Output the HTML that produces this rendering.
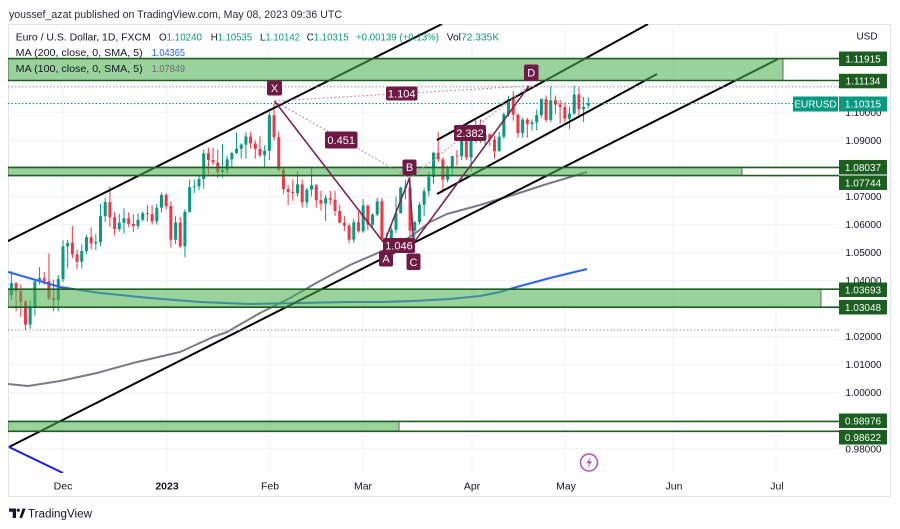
<!DOCTYPE html>
<html><head><meta charset="utf-8"><style>
html,body{margin:0;padding:0;background:#fff;}
svg{display:block;font-family:"Liberation Sans",sans-serif;}
</style></head><body>
<svg width="900" height="529" viewBox="0 0 900 529" xmlns="http://www.w3.org/2000/svg">
<defs><clipPath id="pc"><rect x="8" y="24" width="831" height="449"/></clipPath></defs>
<rect x="0" y="0" width="900" height="529" fill="#fff"/>
<text x="9" y="18" font-size="11" fill="#2a2e39" textLength="333" lengthAdjust="spacingAndGlyphs">youssef_azat published on TradingView.com, May 08, 2023 09:36 UTC</text>
<rect x="8.5" y="24.5" width="882" height="472" fill="none" stroke="#e0e3eb"/>
<g stroke="#f0f3fa" stroke-width="1">
<path d="M8 56.3H839M8 84.3H839M8 112.3H839M8 140.4H839M8 168.4H839M8 196.4H839M8 224.5H839M8 252.5H839M8 280.6H839M8 308.6H839M8 336.6H839M8 364.7H839M8 392.7H839M8 420.7H839M8 448.8H839"/>
<path d="M63 24V473M167 24V473M270 24V473M363 24V473M472 24V473M565 24V473M673 24V473M776 24V473"/>
</g>
<g clip-path="url(#pc)">
<g transform="translate(63,3196.4) scale(4.69,-2803.7)">
<path fill="none" stroke="#089981" stroke-width="1" vector-effect="non-scaling-stroke" d="M-11 1.0330V1.0434M-7 1.0228V1.0329M-6 1.0275V1.0406M-5 1.0385V1.0448M-1 1.0290V1.0420M0 1.0395V1.0544M1 1.0443V1.0545M4 1.0443V1.0529M5 1.0493V1.0563M7 1.0509V1.0566M8 1.0523V1.0673M9 1.0608V1.0695M12 1.0575V1.0638M13 1.0568V1.0657M16 1.0584V1.0640M17 1.0610V1.0647M20 1.0600V1.0673M21 1.0643V1.0714M24 1.0530V1.0631M26 1.0483V1.0654M27 1.0643V1.0760M28 1.0712V1.0760M29 1.0722V1.0778M30 1.0728V1.0867M34 1.0766V1.0887M35 1.0780V1.0845M36 1.0800V1.0860M37 1.0850V1.0927M38 1.0835V1.0890M39 1.0835V1.0929M43 1.0800V1.0882M44 1.0830V1.1000M50 1.0700V1.0790M52 1.0660V1.0730M53 1.0700V1.0804M56 1.0613V1.0705M62 1.0535V1.0620M64 1.0570V1.0691M66 1.0590V1.0640M67 1.0630V1.0695M70 1.0530V1.0590M71 1.0570V1.0700M72 1.0640V1.0735M73 1.0690V1.0760M75 1.0550V1.0613M76 1.0600V1.0680M77 1.0630V1.0730M78 1.0700V1.0787M79 1.0745V1.0860M82 1.0750V1.0810M83 1.0775V1.0845M85 1.0830V1.0925M87 1.0790V1.0920M88 1.0890V1.0972M90 1.0880V1.0940M93 1.0860V1.0930M94 1.0905V1.1000M95 1.0985V1.1060M98 1.0910V1.0980M100 1.0935V1.0975M101 1.0935V1.1010M102 1.0980V1.1050M104 1.0965V1.1095M108 1.0940V1.1020M109 1.0990V1.1095M111 1.0965V1.1055M112 1.1014V1.1054"/>
<path fill="none" stroke="#f23645" stroke-width="1" vector-effect="non-scaling-stroke" d="M-10 1.0290V1.0395M-9 1.0270V1.0385M-8 1.0223V1.0331M-4 1.0385V1.0431M-3 1.0330V1.0497M-2 1.0290V1.0404M2 1.0480V1.0594M3 1.0441V1.0510M6 1.0512V1.0589M10 1.0591V1.0736M11 1.0561V1.0645M14 1.0590V1.0643M15 1.0573V1.0637M18 1.0610V1.0670M19 1.0600V1.0668M22 1.0654V1.0712M23 1.0519V1.0683M25 1.0517V1.0627M31 1.0780V1.0873M32 1.0812V1.0874M33 1.0766V1.0867M40 1.0870V1.0930M41 1.0835V1.0900M42 1.0840V1.0915M45 1.0900V1.1033M46 1.0790V1.0932M47 1.0710V1.0805M48 1.0669V1.0740M49 1.0684V1.0760M51 1.0660V1.0760M54 1.0660V1.0745M55 1.0650V1.0720M57 1.0670V1.0720M58 1.0630V1.0720M59 1.0605V1.0670M60 1.0577V1.0630M61 1.0533V1.0604M63 1.0570V1.0645M65 1.0580V1.0670M68 1.0540V1.0695M69 1.0524V1.0570M74 1.0516V1.0760M80 1.0820V1.0930M81 1.0713V1.0840M84 1.0810V1.0865M86 1.0830V1.0925M89 1.0890V1.0975M91 1.0880V1.0925M92 1.0835V1.0915M96 1.0970V1.1076M97 1.0910V1.0995M99 1.0910V1.0980M103 1.0965V1.1060M105 1.0995V1.1060M106 1.0960V1.1045M107 1.0965V1.1035M110 1.0990V1.1090"/>
<path fill="#089981" d="M-11.32 1.0348h.64v.0043h-.64zM-7.32 1.0243h.64v.0061h-.64zM-6.32 1.0304h.64v.0093h-.64zM-5.32 1.0397h.64v.0011h-.64zM-1.32 1.0330h.64v.0075h-.64zM-.32 1.0405h.64v.0117h-.64zM.68 1.0522h.64v.0013h-.64zM3.68 1.0467h.64v.0039h-.64zM4.68 1.0506h.64v.0049h-.64zM6.68 1.0532h.64v.0005h-.64zM7.68 1.0537h.64v.0093h-.64zM8.68 1.0630h.64v.0050h-.64zM11.68 1.0584h.64v.0022h-.64zM12.68 1.0606h.64v.0016h-.64zM15.68 1.0594h.64v.0023h-.64zM16.68 1.0617h.64v.0023h-.64zM19.68 1.0611h.64v.0049h-.64zM20.68 1.0660h.64v.0045h-.64zM23.68 1.0546h.64v.0061h-.64zM25.68 1.0522h.64v.0123h-.64zM26.68 1.0645h.64v.0088h-.64zM27.68 1.0733h.64v.0003h-.64zM28.68 1.0736h.64v.0026h-.64zM29.68 1.0762h.64v.0092h-.64zM33.68 1.0787h.64v.0007h-.64zM34.68 1.0794h.64v.0038h-.64zM35.68 1.0832h.64v.0023h-.64zM36.68 1.0855h.64v.0015h-.64zM37.68 1.0870h.64v.0015h-.64zM38.68 1.0885h.64v.0029h-.64zM42.68 1.0847h.64v.0016h-.64zM43.68 1.0863h.64v.0127h-.64zM49.68 1.0712h.64v.0031h-.64zM51.68 1.0679h.64v.0045h-.64zM52.68 1.0724h.64v.0016h-.64zM55.68 1.0675h.64v.0019h-.64zM61.68 1.0546h.64v.0062h-.64zM63.68 1.0576h.64v.0092h-.64zM65.68 1.0599h.64v.0036h-.64zM66.68 1.0635h.64v.0048h-.64zM69.68 1.0546h.64v.0035h-.64zM70.68 1.0581h.64v.0059h-.64zM71.68 1.0640h.64v.0091h-.64zM72.68 1.0731h.64v.0003h-.64zM74.68 1.0578h.64v.0031h-.64zM75.68 1.0609h.64v.0061h-.64zM76.68 1.0670h.64v.0049h-.64zM77.68 1.0719h.64v.0051h-.64zM78.68 1.0770h.64v.0086h-.64zM81.68 1.0760h.64v.0040h-.64zM82.68 1.0800h.64v.0044h-.64zM84.68 1.0843h.64v.0062h-.64zM86.68 1.0839h.64v.0063h-.64zM87.68 1.0902h.64v.0053h-.64zM89.68 1.0903h.64v.0019h-.64zM92.68 1.0861h.64v.0052h-.64zM93.68 1.0913h.64v.0080h-.64zM94.68 1.0993h.64v.0054h-.64zM97.68 1.0926h.64v.0048h-.64zM99.68 1.0958h.64v.0006h-.64zM100.68 1.0964h.64v.0026h-.64zM101.68 1.0990h.64v.0057h-.64zM103.68 1.0973h.64v.0070h-.64zM107.68 1.0977h.64v.0019h-.64zM108.68 1.0996h.64v.0067h-.64zM110.68 1.1011h.64v.0008h-.64zM111.68 1.1024h.64v.0008h-.64z"/>
<path fill="#f23645" d="M-10.32 1.0363h.64v.0028h-.64zM-9.32 1.0325h.64v.0038h-.64zM-8.32 1.0243h.64v.0082h-.64zM-4.32 1.0398h.64v.0010h-.64zM-3.32 1.0337h.64v.0061h-.64zM-2.32 1.0330h.64v.0007h-.64zM1.68 1.0494h.64v.0041h-.64zM2.68 1.0467h.64v.0027h-.64zM5.68 1.0532h.64v.0023h-.64zM9.68 1.0626h.64v.0054h-.64zM10.68 1.0584h.64v.0042h-.64zM13.68 1.0602h.64v.0020h-.64zM14.68 1.0594h.64v.0008h-.64zM17.68 1.0637h.64v.0003h-.64zM18.68 1.0611h.64v.0026h-.64zM21.68 1.0666h.64v.0039h-.64zM22.68 1.0546h.64v.0120h-.64zM24.68 1.0522h.64v.0085h-.64zM30.68 1.0830h.64v.0024h-.64zM31.68 1.0821h.64v.0009h-.64zM32.68 1.0787h.64v.0034h-.64zM39.68 1.0889h.64v.0025h-.64zM40.68 1.0869h.64v.0020h-.64zM41.68 1.0847h.64v.0022h-.64zM44.68 1.0911h.64v.0079h-.64zM45.68 1.0795h.64v.0116h-.64zM46.68 1.0726h.64v.0069h-.64zM47.68 1.0716h.64v.0010h-.64zM48.68 1.0712h.64v.0004h-.64zM50.68 1.0679h.64v.0064h-.64zM53.68 1.0687h.64v.0053h-.64zM54.68 1.0675h.64v.0012h-.64zM56.68 1.0688h.64v.0006h-.64zM57.68 1.0648h.64v.0040h-.64zM58.68 1.0606h.64v.0042h-.64zM59.68 1.0596h.64v.0010h-.64zM60.68 1.0546h.64v.0050h-.64zM62.68 1.0576h.64v.0032h-.64zM64.68 1.0599h.64v.0069h-.64zM67.68 1.0549h.64v.0134h-.64zM68.68 1.0546h.64v.0003h-.64zM73.68 1.0578h.64v.0154h-.64zM79.68 1.0832h.64v.0024h-.64zM80.68 1.0760h.64v.0072h-.64zM83.68 1.0843h.64v.0003h-.64zM85.68 1.0839h.64v.0066h-.64zM88.68 1.0903h.64v.0052h-.64zM90.68 1.0903h.64v.0019h-.64zM91.68 1.0861h.64v.0042h-.64zM95.68 1.0992h.64v.0055h-.64zM96.68 1.0926h.64v.0066h-.64zM98.68 1.0958h.64v.0016h-.64zM102.68 1.0973h.64v.0074h-.64zM104.68 1.1028h.64v.0015h-.64zM105.68 1.1019h.64v.0009h-.64zM106.68 1.0977h.64v.0042h-.64zM109.68 1.1011h.64v.0052h-.64z"/>
</g>
<polyline fill="none" stroke="#787b86" stroke-width="2" stroke-linejoin="round" points="8,384 28,386 60,381 97,373 133,363 180,352 213,337 227,332 260,313 290,298 318,282 350,265 380,252 400,243 413,235 430,222 447,214 480,205 513,195 547,184 587,172"/>
<polyline fill="none" stroke="#2962ff" stroke-width="2" stroke-linejoin="round" points="8,272 60,287 100,293 150,298 200,302 250,304 300,303 350,302 380,302 413,301 450,299 480,296 500,292 513,288 550,278 587,269"/>
<g stroke="#000" stroke-width="2" fill="none">
<line x1="6" y1="242" x2="442" y2="24"/>
<line x1="9" y1="447" x2="778" y2="59"/>
<line x1="437" y1="194" x2="657" y2="74"/>
<line x1="437" y1="140" x2="648" y2="24"/>
</g>
<line x1="9" y1="447" x2="63" y2="473" stroke="#1a1aff" stroke-width="2"/>
<g fill="rgba(76,175,80,0.57)" stroke="#5f6b60" stroke-width="1">
<rect x="8" y="58.6" width="775" height="21.9"/>
<rect x="8" y="167.4" width="734" height="8.2"/>
<rect x="8" y="289.2" width="813" height="18"/>
<rect x="8" y="421.4" width="391" height="9.9"/>
</g>
<g stroke="#1e5e22" stroke-width="1.6">
<path d="M8 58.6H839M8 80.5H839M8 167.4H839M8 175.6H839M8 289.2H839M8 307.2H839M8 421.4H839M8 431.3H839"/>
</g>
<g stroke-dasharray="1.5 2" stroke-width="1">
<line x1="8" y1="86.7" x2="839" y2="86.7" stroke="#9598a1"/>
<line x1="8" y1="330" x2="839" y2="330" stroke="#9598a1"/>
<line x1="8" y1="103.5" x2="793" y2="103.5" stroke="#089981"/>
</g>
<g stroke="#b98aa3" stroke-width="1" stroke-dasharray="2 2" fill="none">
<line x1="274.5" y1="101" x2="409.5" y2="178"/>
<line x1="274.5" y1="101" x2="529" y2="86"/>
<line x1="409.5" y1="178" x2="529" y2="86"/>
<line x1="384" y1="243" x2="413.5" y2="243"/>
</g>
<polyline fill="none" stroke="#7b2553" stroke-width="1.6" stroke-linejoin="round" points="274.5,101 384,243 409.5,178 413.5,243 529,86"/>
<g fill="#6e1a45">
<rect x="325" y="131.5" width="32.5" height="17" rx="2"/>
<rect x="386" y="86.5" width="31.5" height="14" rx="2"/>
<rect x="454" y="125" width="32" height="16" rx="2"/>
<rect x="383" y="238" width="32" height="15" rx="2"/>
<rect x="267" y="80.5" width="15" height="15" rx="2"/>
<rect x="379" y="250.5" width="14" height="16" rx="2"/>
<rect x="402.5" y="159.5" width="14" height="15.5" rx="2"/>
<rect x="406.5" y="253.5" width="14" height="16.5" rx="2"/>
<rect x="524" y="64.5" width="14.5" height="16.5" rx="2"/>
</g>
<g fill="#fff" font-size="11" text-anchor="middle">
<text x="341.2" y="144">0.451</text>
<text x="401.7" y="97.5">1.104</text>
<text x="470" y="137">2.382</text>
<text x="399" y="249.5">1.046</text>
<text x="274.5" y="92">X</text>
<text x="386" y="262.5">A</text>
<text x="409.5" y="171">B</text>
<text x="413.5" y="266">C</text>
<text x="531.2" y="76.5">D</text>
</g>
</g>
<g font-size="10.5" fill="#131722">
<text x="15.7" y="40.5" textLength="135" lengthAdjust="spacingAndGlyphs">Euro / U.S. Dollar, 1D, FXCM</text>
<text x="159" y="40.5" textLength="43" lengthAdjust="spacingAndGlyphs">O<tspan fill="#089981">1.10240</tspan></text>
<text x="210.7" y="40.5" textLength="41.5" lengthAdjust="spacingAndGlyphs">H<tspan fill="#089981">1.10535</tspan></text>
<text x="260" y="40.5" textLength="40" lengthAdjust="spacingAndGlyphs">L<tspan fill="#089981">1.10142</tspan></text>
<text x="306.7" y="40.5" textLength="42" lengthAdjust="spacingAndGlyphs">C<tspan fill="#089981">1.10315</tspan></text>
<text x="356" y="40.5" textLength="83" lengthAdjust="spacingAndGlyphs" fill="#089981">+0.00139 (+0.13%)</text>
<text x="446.7" y="40.5" textLength="52.5" lengthAdjust="spacingAndGlyphs">Vol<tspan fill="#089981">72.335K</tspan></text>
<text x="15.7" y="56" textLength="127" lengthAdjust="spacingAndGlyphs">MA (200, close, 0, SMA, 5)</text>
<text x="151.7" y="56" textLength="33.3" lengthAdjust="spacingAndGlyphs" fill="#2962ff">1.04365</text>
<text x="15.7" y="72" textLength="127" lengthAdjust="spacingAndGlyphs">MA (100, close, 0, SMA, 5)</text>
<text x="151.7" y="72" textLength="33.3" lengthAdjust="spacingAndGlyphs" fill="#6a6d78">1.07849</text>
</g>
<g font-size="10" fill="#131722" text-anchor="end">
<text x="867" y="39.5" text-anchor="middle">USD</text>
<text x="881.5" y="115.8">1.10000</text>
<text x="881.5" y="143.9">1.09000</text>
<text x="881.5" y="199.9">1.07000</text>
<text x="881.5" y="228">1.06000</text>
<text x="881.5" y="256">1.05000</text>
<text x="881.5" y="284.1">1.04000</text>
<text x="881.5" y="340.1">1.02000</text>
<text x="881.5" y="368.2">1.01000</text>
<text x="881.5" y="396.2">1.00000</text>
<text x="881.5" y="452.3">0.98000</text>
</g>
<g fill="#1b5e20">
<rect x="839" y="51.5" width="48" height="14.5"/>
<rect x="839" y="73.8" width="48" height="14.5"/>
<rect x="839" y="160" width="48" height="14.5"/>
<rect x="839" y="175.5" width="48" height="14.5"/>
<rect x="839" y="282.5" width="48" height="14.5"/>
<rect x="839" y="300" width="48" height="14.5"/>
<rect x="839" y="413.5" width="48" height="14.5"/>
<rect x="839" y="430" width="48" height="14.5"/>
</g>
<g fill="#089981">
<rect x="839" y="96.5" width="48" height="15"/>
<rect x="793" y="96.5" width="45" height="15"/>
</g>
<g font-size="10" fill="#fff" text-anchor="middle">
<text x="863" y="62.3">1.11915</text>
<text x="863" y="84.6">1.11134</text>
<text x="863" y="107.5">1.10315</text>
<text x="815.5" y="107.5">EURUSD</text>
<text x="863" y="170.8">1.08037</text>
<text x="863" y="186.3">1.07744</text>
<text x="863" y="293.3">1.03693</text>
<text x="863" y="310.8">1.03048</text>
<text x="863" y="424.3">0.98976</text>
<text x="863" y="440.8">0.98622</text>
</g>
<g font-size="10.5" fill="#131722" text-anchor="middle">
<text x="63" y="489.5">Dec</text>
<text x="167" y="489.5" font-weight="bold">2023</text>
<text x="270" y="489.5">Feb</text>
<text x="363" y="489.5">Mar</text>
<text x="472" y="489.5">Apr</text>
<text x="566" y="489.5">May</text>
<text x="674" y="489.5">Jun</text>
<text x="777" y="489.5">Jul</text>
</g>
<circle cx="589" cy="462.5" r="8.5" fill="#fff" stroke="#b14cc6" stroke-width="1.5"/>
<path d="M591 456.5L586.3 463.3H589.2L587.5 468.5L592 461.4H589.1Z" fill="#b14cc6"/>
<path d="M9 508.5h7v9.5h-3.3v-6.3H9z" fill="#131722"/>
<circle cx="18.3" cy="510.2" r="1.6" fill="#131722"/>
<path d="M19.5 518l3-9.5h3.2l-3.6 9.5z" fill="#131722"/>
<text x="28" y="517.5" font-size="11.5" fill="#131722" textLength="64" lengthAdjust="spacingAndGlyphs">TradingView</text>
</svg>
</body></html>
